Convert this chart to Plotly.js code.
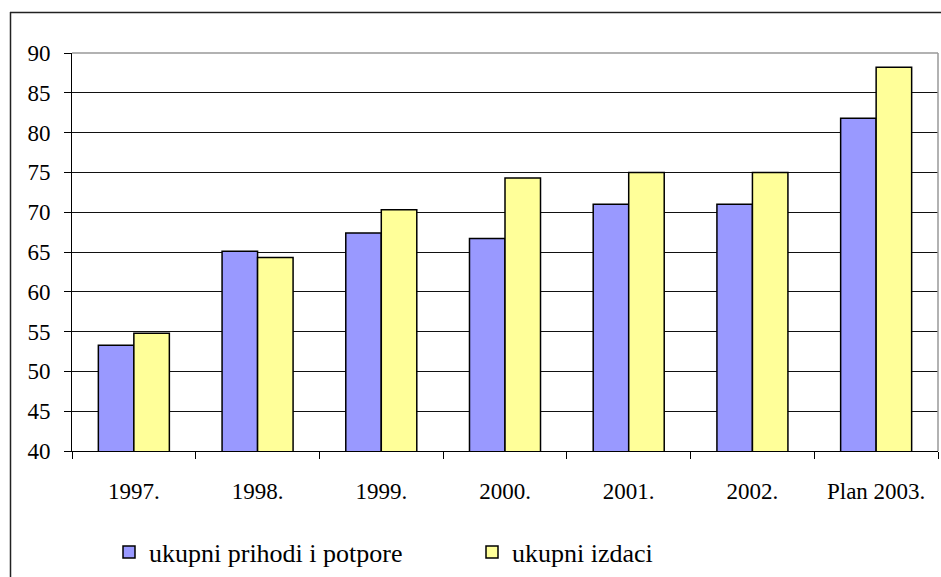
<!DOCTYPE html>
<html>
<head>
<meta charset="utf-8">
<script src="https://cdn.plot.ly/plotly-3.0.1.min.js"></script>
<style>
html,body{margin:0;padding:0;background:#fff;}
#chart{width:941px;height:577px;}
#chart text{font-family:'Liberation Serif' !important;}
#warm{position:absolute;left:0;top:0;font-family:'Liberation Serif';font-size:22px;color:#fff;opacity:0;pointer-events:none;}
</style>
</head>
<body>
<div id="warm">1997. ukupni prihodi i potpore</div>
<div id="chart"></div>
<script>
const categories = ["1997.", "1998.", "1999.", "2000.", "2001.", "2002.", "Plan 2003."];
const seriesNames = ["ukupni prihodi i potpore", "ukupni izdaci"];
const prihodi = [53.3, 65.1, 67.4, 66.7, 71.0, 71.0, 81.8];
const izdaci = [54.8, 64.3, 70.3, 74.3, 75.0, 75.0, 88.2];
const yTicks = [40, 45, 50, 55, 60, 65, 70, 75, 80, 85, 90];

const FONT = 'Liberation Serif';
const W = 941, H = 577;
const L = 72, R = 3, T = 53, B = 125;
const pw = W - L - R, ph = H - T - B;
const px = x => (x - L) / pw;
const py = y => 1 - (y - T) / ph;

const traces = [
  {type: 'bar', name: seriesNames[0], x: categories, y: prihodi,
   marker: {color: '#9999FF', line: {color: '#000', width: 1.5}}},
  {type: 'bar', name: seriesNames[1], x: categories, y: izdaci,
   marker: {color: '#FFFF99', line: {color: '#000', width: 1.5}}}
];

const layout = {
  width: W, height: H,
  margin: {l: L, r: R, t: T, b: B, pad: 0},
  paper_bgcolor: '#fff', plot_bgcolor: '#fff',
  font: {family: FONT, color: '#000', size: 23},
  barmode: 'group', bargap: 0.426, bargroupgap: 0,
  showlegend: true,
  legend: {orientation: 'h', x: px(109), xanchor: 'left', y: py(552), yanchor: 'middle',
           entrywidth: 318, entrywidthmode: 'pixels', font: {family: FONT, size: 26, color: '#000'},
           bgcolor: 'rgba(0,0,0,0)', traceorder: 'normal'},
  xaxis: {type: 'category', tickson: 'boundaries', ticks: 'outside', ticklen: 7, tickwidth: 1,
          tickcolor: '#000', showline: true, linecolor: '#000', linewidth: 1,
          showgrid: false, ticklabelstandoff: 19, tickfont: {family: FONT, size: 23, color: '#000'}},
  yaxis: {range: [40, 90], tickvals: yTicks, ticks: 'outside', ticklen: 7, tickwidth: 1,
          tickcolor: '#000', showline: true, linecolor: '#000', linewidth: 1,
          showgrid: true, gridcolor: '#111', gridwidth: 1, zeroline: false,
          ticklabelstandoff: 9, tickfont: {family: FONT, size: 23, color: '#000'}},
  shapes: [
    {type: 'line', xref: 'paper', yref: 'paper', x0: 0, x1: 1, y0: 1, y1: 1, line: {color: '#999', width: 1.5}},
    {type: 'line', xref: 'paper', yref: 'paper', x0: 1, x1: 1, y0: 0, y1: 1, line: {color: '#999', width: 1.5}},
    {type: 'line', xref: 'paper', yref: 'paper', x0: px(10), x1: px(945), y0: py(12.5), y1: py(12.5), line: {color: '#222', width: 1.5}},
    {type: 'line', xref: 'paper', yref: 'paper', x0: px(10.5), x1: px(10.5), y0: py(12), y1: py(580), line: {color: '#222', width: 1.5}}
  ]
};

function draw() {
  Plotly.newPlot('chart', traces, layout, {displayModeBar: false, staticPlot: true});
}
if (document.fonts && document.fonts.load) {
  document.fonts.load('22px "Liberation Serif"').then(draw, draw);
} else {
  draw();
}
</script>
</body>
</html>
